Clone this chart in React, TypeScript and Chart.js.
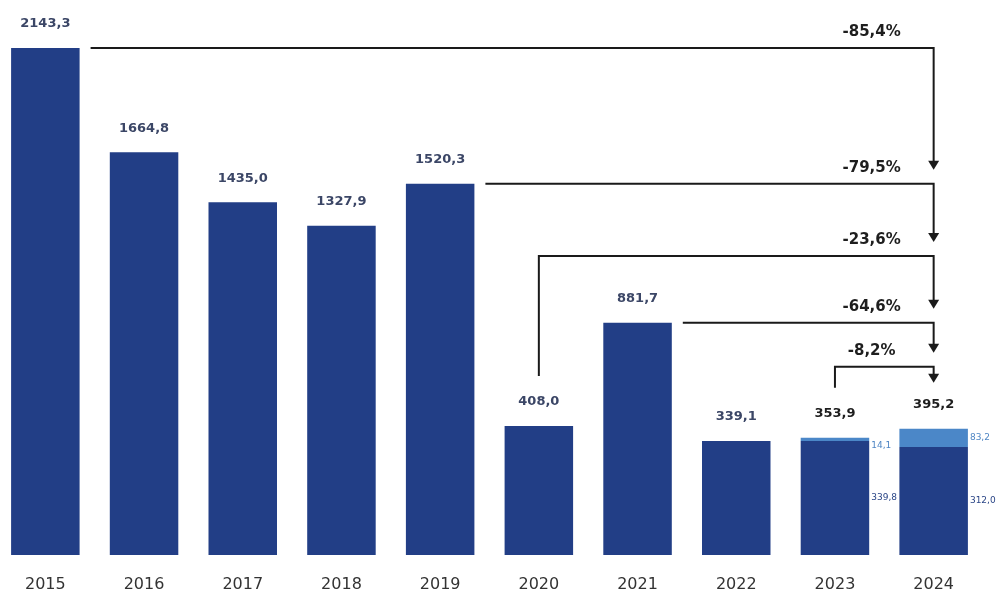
import React, { useEffect, useRef } from 'react';
import { Chart, registerables } from 'chart.js';

Chart.register(...registerables);

// ---- data ----
const years = ['2015', '2016', '2017', '2018', '2019', '2020', '2021', '2022', '2023', '2024'];
const mainValues = [2143.3, 1664.8, 1435.0, 1327.9, 1520.3, 408.0, 881.7, 339.1, 339.8, 312.0];
const addedValues: (number | null)[] = [null, null, null, null, null, null, null, null, 14.1, 83.2];
const changeFrom = [0, 4, 5, 6, 8];
const changeLabels = ['-85,4%', '-79,5%', '-23,6%', '-64,6%', '-8,2%'];
const changeKinds = ['top', 'top', 'riser', 'top', 'riser'];

// ---- scale / style settings ----
const AXIS_MIN = -184;
const AXIS_MAX = 2364;
const RISE = [0, 0, 170, 0, 71];
const DARK = '#223e86';
const LIGHT = '#4b87c8';
const FONT = '"DejaVu Sans", sans-serif';

const fmt = (v: number) => v.toFixed(1).replace('.', ',');

const annotate = {
  id: 'annotate',
  afterDatasetsDraw(chart: any) {
    const ctx = chart.ctx as CanvasRenderingContext2D;
    const y = chart.scales.y;
    const m0 = chart.getDatasetMeta(0);
    const m1 = chart.getDatasetMeta(1);
    ctx.save();

    const totalTop = (i: number) => y.getPixelForValue(mainValues[i] + (addedValues[i] ?? 0));

    // totals + segment labels
    years.forEach((_, i) => {
      const bar = m0.data[i];
      const add = addedValues[i];
      const total = mainValues[i] + (add ?? 0);
      ctx.font = `bold 13px ${FONT}`;
      ctx.fillStyle = add != null ? '#1e1e1e' : '#3b4666';
      ctx.textAlign = 'center';
      ctx.textBaseline = 'middle';
      ctx.fillText(fmt(total), bar.x, totalTop(i) - 24);
      if (add != null) {
        const seg = m1.data[i];
        const right = bar.x + bar.width / 2 + 2;
        ctx.font = `9px ${FONT}`;
        ctx.textAlign = 'left';
        ctx.fillStyle = '#4f86c4';
        const segTop = Math.min(seg.y, seg.base);
        const segBottom = Math.max(seg.y, seg.base);
        ctx.fillText(fmt(add), right, Math.max((segTop + segBottom) / 2, segTop + 8));
        ctx.fillStyle = '#2a4586';
        ctx.fillText(fmt(mainValues[i]), right, (bar.y + bar.base) / 2);
      }
    });

    // connectors
    const target = m0.data[years.length - 1];
    const tx = target.x;
    const levels = changeFrom.map((fi, k) =>
      changeKinds[k] === 'top' ? y.getPixelForValue(mainValues[fi] + (addedValues[fi] ?? 0)) : totalTop(fi) - RISE[k]
    );
    ctx.strokeStyle = '#1a1a1a';
    ctx.fillStyle = '#1a1a1a';
    ctx.lineWidth = 2;
    changeFrom.forEach((fi, k) => {
      const b = m0.data[fi];
      const level = levels[k];
      const tip = k < changeFrom.length - 1 ? levels[k + 1] - 14 : totalTop(years.length - 1) - 46;
      ctx.beginPath();
      if (changeKinds[k] === 'riser') {
        ctx.moveTo(b.x, totalTop(fi) - 50);
        ctx.lineTo(b.x, level);
      } else {
        ctx.moveTo(b.x + b.width / 2 + 11, level);
      }
      ctx.lineTo(tx, level);
      ctx.lineTo(tx, tip - 8);
      ctx.stroke();
      ctx.beginPath();
      ctx.moveTo(tx - 5.5, tip - 9);
      ctx.lineTo(tx + 5.5, tip - 9);
      ctx.lineTo(tx, tip);
      ctx.closePath();
      ctx.fill();

      ctx.font = `bold 15px ${FONT}`;
      ctx.textAlign = 'center';
      ctx.textBaseline = 'middle';
      ctx.fillStyle = '#1e1e1e';
      ctx.fillText(changeLabels[k], tx - 62, level - 16);
      ctx.fillStyle = '#1a1a1a';
    });

    ctx.restore();
  },
};

export default function App() {
  const ref = useRef<HTMLCanvasElement | null>(null);

  useEffect(() => {
    if (!ref.current) return;
    const chart = new Chart(ref.current, {
      type: 'bar',
      data: {
        labels: years,
        datasets: [
          {
            data: mainValues,
            backgroundColor: DARK,
            base: AXIS_MIN,
            stack: 's',
            barPercentage: 0.694,
            categoryPercentage: 1,
          } as any,
          {
            data: addedValues,
            backgroundColor: LIGHT,
            stack: 's',
            barPercentage: 0.694,
            categoryPercentage: 1,
          } as any,
        ],
      },
      options: {
        responsive: false,
        animation: false,
        layout: { padding: { left: 0, right: 21, top: 0, bottom: 0 } },
        plugins: { legend: { display: false }, tooltip: { enabled: false } },
        scales: {
          x: {
            stacked: true,
            grid: { display: false, drawTicks: false },
            border: { display: false },
            ticks: { font: { family: 'DejaVu Sans', size: 16 }, color: '#333333', padding: 20 },
            afterFit: (s: any) => {
              s.height = 37;
            },
          },
          y: {
            stacked: true,
            display: false,
            min: AXIS_MIN,
            max: AXIS_MAX,
          },
        },
      },
      plugins: [annotate],
    });
    return () => chart.destroy();
  }, []);

  return (
    <div style={{ position: 'fixed', left: -4, top: 0, width: 1008, height: 592, background: '#fff' }}>
      <canvas ref={ref} width={1008} height={592} style={{ display: 'block' }} />
    </div>
  );
}
